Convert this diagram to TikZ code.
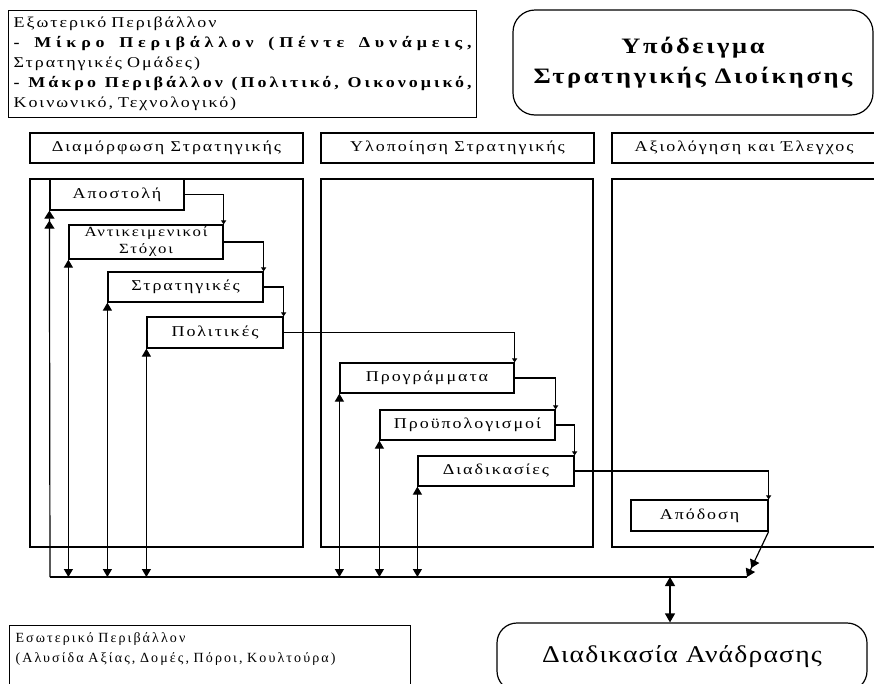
\documentclass[tikz,border=0pt]{standalone}
\usepackage{fontspec}
\setmainfont{Liberation Serif}[LetterSpace=13,FakeStretch=1.2]
\newfontfamily\titleserif{Liberation Serif}[LetterSpace=12,FakeStretch=1.2]
\newfontfamily\fbserif{Liberation Serif}[LetterSpace=5,FakeStretch=1.15]
\newfontfamily\innerserif{Liberation Serif}[LetterSpace=15]
\usetikzlibrary{arrows.meta}

\begin{document}
\begin{tikzpicture}[x=1pt,y=-1pt,line width=1.2pt,
  box/.style={draw,inner sep=0pt,font=\fontsize{15}{17}\selectfont},
  hdr/.style={draw,inner sep=0pt,minimum height=30pt,font=\fontsize{15}{17}\selectfont},
  flowarrow/.style={-{Triangle[width=5pt,length=4pt]}},
  busarrow/.style={{Triangle[width=9pt,length=8pt]}-{Triangle[width=9pt,length=8pt]}},
  dblarrow/.style={-{Triangle[width=10pt,length=8pt,sep=2pt]Triangle[width=10pt,length=8pt]}}]
	\useasboundingbox (0,0) rectangle (874,683);
	% environment boxes
	\node[draw,anchor=north west,minimum width=468pt,minimum height=107pt,text width=458pt,
	  inner xsep=5pt,align=left,font=\fontsize{15}{20}\selectfont] (exo) at (8,10)
	  {Εξωτερικό Περιβάλλον\\
	   \leavevmode\hbox to 458pt{\bfseries\addfontfeatures{LetterSpace=32}-\hfill Μίκρο\hfill Περιβάλλον\hfill (Πέντε\hfill Δυνάμεις,}\\
	   Στρατηγικές Ομάδες)\\
	   \leavevmode\hbox to 458pt{\bfseries\addfontfeatures{LetterSpace=20}-\hfill Μάκρο\hfill Περιβάλλον\hfill (Πολιτικό,\hfill Οικονομικό,}\\
	   Κοινωνικό, Τεχνολογικό)};
	\node[draw,rounded corners=22pt,minimum width=360pt,minimum height=105pt,align=center,
	  font=\titleserif\bfseries\fontsize{22}{30}\selectfont] (title) at (693,62.5)
	  {Υπόδειγμα\\Στρατηγικής Διοίκησης};
	% stages
	\node[hdr,minimum width=273pt] (hdrA) at (166.5,148) {Διαμόρφωση Στρατηγικής};
	\node[hdr,minimum width=273pt] (hdrB) at (457.5,148) {Υλοποίηση Στρατηγικής};
	\node[hdr,minimum width=264pt] (hdrC) at (744,148) {Αξιολόγηση και Έλεγχος};
	\draw (30,179) rectangle (303,547);
	\draw (321,179) rectangle (593,547);
	\draw (612,179) rectangle (876,547);
	% steps
	\node[box,minimum width=134pt,minimum height=31pt] (apostoli) at (117,194.5) {Αποστολή};
	\node[box,minimum width=154pt,minimum height=34pt,align=center,
	  font=\fontsize{14}{17}\selectfont] (antik) at (146,242) {Αντικειμενικοί\\Στόχοι};
	\node[box,minimum width=155pt,minimum height=30pt] (strat) at (185.5,287) {Στρατηγικές};
	\node[box,minimum width=136pt,minimum height=31pt] (polit) at (215,332.5) {Πολιτικές};
	\node[box,minimum width=174pt,minimum height=30pt] (progr) at (427,378) {Προγράμματα};
	\node[box,minimum width=175pt,minimum height=30pt] (proyp) at (467.5,425) {Προϋπολογισμοί};
	\node[box,minimum width=156pt,minimum height=30pt] (diad) at (496,471) {Διαδικασίες};
	\node[box,minimum width=137pt,minimum height=31pt] (apod) at (699.5,515.5) {Απόδοση};
	\draw[flowarrow] (apostoli.east) -| (antik.north east);
	\draw[flowarrow] (antik.east) -| (strat.north east);
	\draw[flowarrow] (strat.east) -| (polit.north east);
	\draw[flowarrow] (polit.east) -| (progr.north east);
	\draw[flowarrow] (progr.east) -| (proyp.north east);
	\draw[flowarrow] (proyp.east) -| (diad.north east);
	\draw[flowarrow] (diad.east) -| (apod.north east);
	% feedback bus
	\coordinate (busL) at (50,577);
	\coordinate (busR) at (747,577);
	\coordinate (fb) at (670,577);
	\draw (busL) -- (busR);
	\draw[dblarrow] (busL) -- (apostoli.south west);
	\foreach \b in {antik,strat,polit,progr,proyp,diad}
	  \draw[busarrow] (\b.south west |- busL) -- (\b.south west);
	\draw[dblarrow] (apod.south east) -- (busR);
	\node[draw,anchor=north west,text width=389pt,inner xsep=6pt,inner ysep=7pt,align=left,
	  font=\innerserif\fontsize{14}{20}\selectfont] (eso) at (9,625)
	  {Εσωτερικό Περιβάλλον\\(Αλυσίδα Αξίας, Δομές, Πόροι, Κουλτούρα)\\ \strut\\ \strut};
	\node[draw,rounded corners=20pt,minimum width=370pt,minimum height=68pt,
	  font=\fbserif\fontsize{24}{26}\selectfont] (feedback) at (682,657) {Διαδικασία Ανάδρασης};
	\draw[{Triangle[width=10pt,length=9pt]}-{Triangle[width=10pt,length=9pt]}] (fb) -- (fb |- feedback.north);
\end{tikzpicture}
\end{document}
